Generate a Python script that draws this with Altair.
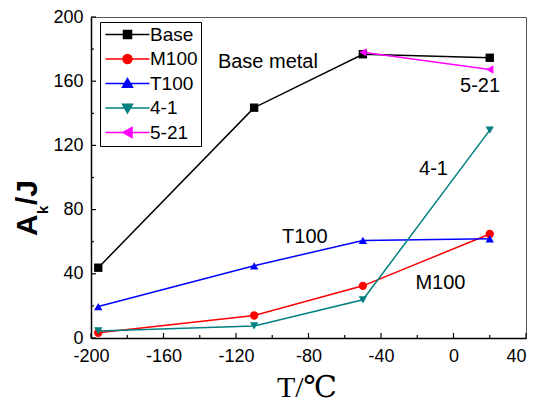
import altair as alt
import pandas as pd

# ---- data ----
series_names = ["Base", "M100", "T100", "4-1", "5-21"]
series_colors = ["#000000", "#FF0000", "#0000FF", "#008080", "#FF00FF"]
series_shapes = ["square", "circle", "triangle-up", "triangle-down", "triangle-left"]

temps = [-196, -110, -50, 20]
base_vals = [43.8, 143.5, 176.8, 174.6]
m100_vals = [3.3, 14.0, 32.5, 64.8]
t100_vals = [19.6, 45.0, 60.8, 61.8]
s41_vals = [4.4, 7.5, 23.8, 129.5]
temps_521 = [-50, 20]
s521_vals = [178.0, 167.3]

ann_labels = ["Base metal", "5-21", "4-1", "T100", "M100"]
ann_x = [-130, 3.6, -19, -94.6, -21]
ann_y = [168.2, 153.5, 101.6, 59.4, 30.3]

x_major = [-200, -160, -120, -80, -40, 0, 40]
x_minor = [-180, -140, -100, -60, -20, 20]
y_major = [0, 40, 80, 120, 160, 200]
y_minor = [20, 60, 100, 140, 180]

# legend symbol paths (line + marker), unit = sqrt(symbolSize)/2 px
legend_paths = [
    "M-1.4,0H7.4M2.2,-0.8H3.8V0.8H2.2Z",
    "M-1.4,0H7.4M2.1,0A0.9,0.9,0,1,0,3.9,0A0.9,0.9,0,1,0,2.1,0Z",
    "M-1.4,0H7.4M3,-1L4,0.75L2,0.75Z",
    "M-1.4,0H7.4M3,1L4,-0.75L2,-0.75Z",
    "M-1.4,0H7.4M2.1,0L3.9,-1L3.9,1Z",
]

rows = []
for name, xs, ys in [
    ("Base", temps, base_vals),
    ("M100", temps, m100_vals),
    ("T100", temps, t100_vals),
    ("4-1", temps, s41_vals),
    ("5-21", temps_521, s521_vals),
]:
    for x, y in zip(xs, ys):
        rows.append({"series": name, "T": x, "Ak": y})
df = pd.DataFrame(rows)

W, H = 435, 321
FONT = "Liberation Sans"

xscale = alt.Scale(domain=[-200, 40], nice=False, zero=False)
yscale = alt.Scale(domain=[0, 200], nice=False)

xaxis = alt.Axis(values=x_major, labelExpr="'' + datum.value", ticks=False, grid=False, title=None,
                 labelFontSize=18, labelFont=FONT, labelColor="#000", labelPadding=9,
                 domainColor="#000", domainWidth=1.5, labelFlush=False,
                 labelAlign={"condition": {"test": "datum.value == 40", "value": "right"},
                             "value": "center"})
yaxis = alt.Axis(values=y_major, labelExpr="'' + datum.value", ticks=False, grid=False, title=None,
                 labelFontSize=18, labelFont=FONT, labelColor="#000", labelPadding=8,
                 domainColor="#000", domainWidth=1.5)

layers = []
base = alt.Chart(df)
first = True
for name, col, shp in zip(series_names, series_colors, series_shapes):
    d = base.transform_filter(alt.datum.series == name)
    if first:
        xe = alt.X("T:Q", scale=xscale, axis=xaxis)
        ye = alt.Y("Ak:Q", scale=yscale, axis=yaxis)
        first = False
    else:
        xe = alt.X("T:Q", scale=xscale)
        ye = alt.Y("Ak:Q", scale=yscale)
    layers.append(d.mark_line(color=col, strokeWidth=1.5).encode(x=xe, y=ye))
    layers.append(d.mark_point(shape=shp, filled=True, size=70, opacity=1, color=col)
                  .encode(x="T:Q", y="Ak:Q"))

# legend layer (no marks drawn, only legend from explicit domains)
legend_layer = base.transform_filter(alt.datum.series == "__none__").mark_point(
    filled=True, opacity=1, strokeWidth=1.5
).encode(
    x="T:Q", y="Ak:Q",
    color=alt.Color("series:N", title=None,
                    scale=alt.Scale(domain=series_names, range=series_colors)),
    stroke=alt.Stroke("series:N", title=None,
                      scale=alt.Scale(domain=series_names, range=series_colors)),
    shape=alt.Shape("series:N", title=None,
                    scale=alt.Scale(domain=series_names, range=legend_paths)),
)
layers.append(legend_layer)

# inward ticks
xt = pd.DataFrame({"v": x_major})
xtm = pd.DataFrame({"v": x_minor})
yt = pd.DataFrame({"v": y_major})
ytm = pd.DataFrame({"v": y_minor})
layers.append(alt.Chart(xt).mark_rule(color="#000", strokeWidth=1.2).encode(
    x="v:Q", y=alt.value(H), y2=alt.value(H - 5)))
layers.append(alt.Chart(xtm).mark_rule(color="#000", strokeWidth=1.2).encode(
    x="v:Q", y=alt.value(H), y2=alt.value(H - 3)))
layers.append(alt.Chart(yt).mark_rule(color="#000", strokeWidth=1.2).encode(
    y="v:Q", x=alt.value(0), x2=alt.value(5)))
layers.append(alt.Chart(ytm).mark_rule(color="#000", strokeWidth=1.2).encode(
    y="v:Q", x=alt.value(0), x2=alt.value(3)))

# annotations
ann = pd.DataFrame({"label": ann_labels, "x": ann_x, "y": ann_y})
layers.append(alt.Chart(ann).mark_text(align="left", baseline="alphabetic", fontSize=20,
                                       font=FONT, color="#000").encode(
    x="x:Q", y="y:Q", text="label:N"))

# axis titles
one = pd.DataFrame({"a": [0]})
layers.append(alt.Chart(one).mark_text(text="A", angle=270, align="left", baseline="alphabetic",
                                       fontSize=30, fontWeight="bold", font=FONT, color="#000").encode(
    x=alt.value(-54), y=alt.value(219)))
layers.append(alt.Chart(one).mark_text(text="k", angle=270, align="left", baseline="alphabetic",
                                       fontSize=15, fontWeight="bold", font=FONT, color="#000").encode(
    x=alt.value(-43), y=alt.value(197)))
layers.append(alt.Chart(one).mark_text(text="/J", angle=270, align="left", baseline="alphabetic",
                                       fontSize=30, fontWeight="bold", font=FONT, color="#000").encode(
    x=alt.value(-54), y=alt.value(188)))
layers.append(alt.Chart(one).mark_text(text="T/℃", align="center", baseline="alphabetic",
                                       fontSize=30, font="Liberation Serif, DejaVu Serif", color="#000").encode(
    x=alt.value(216), y=alt.value(380)))

chart = alt.layer(*layers).properties(
    width=W, height=H,
    autosize=alt.AutoSizeParams(type="none"),
    padding={"left": 83, "top": 9, "right": 2, "bottom": 64},
).configure_view(
    stroke="#555", strokeWidth=1
).configure_legend(
    orient="none", legendX=9, legendY=5,
    strokeColor="#000", strokeWidth=1, padding=3, fillColor="#fff",
    symbolSize=100, symbolStrokeWidth=1.5, labelFontSize=19, labelFont=FONT,
    labelColor="#000", labelOffset=28, rowPadding=4.5,
)

chart.save("out.html", embed_options={"renderer": "svg", "actions": False})
